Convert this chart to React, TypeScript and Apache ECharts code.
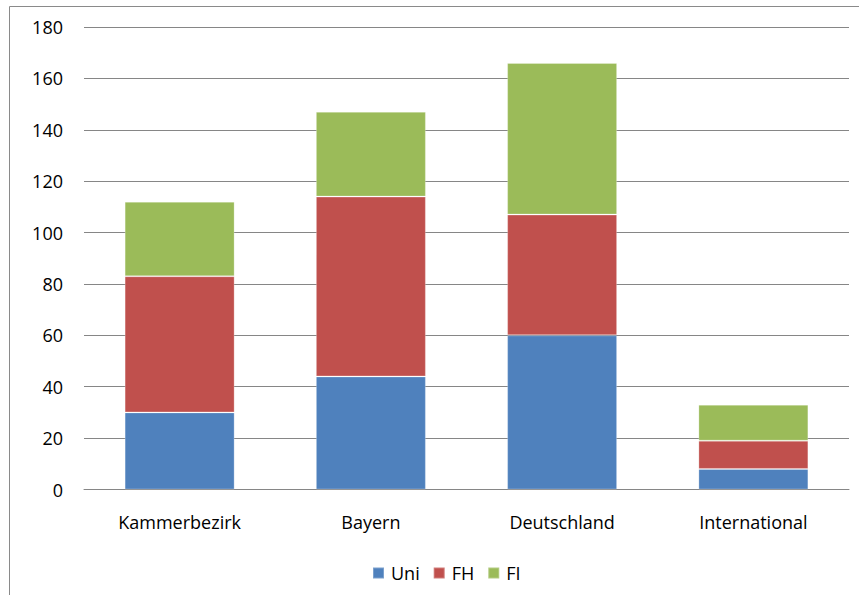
import React, { useEffect, useRef } from "react";
import * as echarts from "echarts";

const categories = ["Kammerbezirk", "Bayern", "Deutschland", "International"];
const uni = [30, 44, 60, 8];
const fh = [53, 70, 47, 11];
const fi = [29, 33, 59, 14];

const FONT = "'Open Sans', sans-serif";

export default function App() {
  const ref = useRef<HTMLDivElement>(null);

  useEffect(() => {
    if (!ref.current) return;
    const chart = echarts.init(ref.current, undefined, { renderer: "svg" });
    const barBase = {
      type: "bar" as const,
      stack: "total",
      barWidth: "57.5%",
      itemStyle: { borderColor: "rgba(255,255,255,0.25)", borderWidth: 1 },
    };
    chart.setOption({
      animation: false,
      backgroundColor: "#ffffff",
      color: ["#4F81BD", "#C0504D", "#9BBB59"],
      graphic: [
        {
          type: "rect",
          shape: { x: 9.5, y: 6.5, width: 880, height: 620 },
          style: { fill: "none", stroke: "#8a8a8a", lineWidth: 1 },
          silent: true,
        },
      ],
      grid: { left: 84, right: 10, top: 27, bottom: 105.5 },
      legend: {
        left: 367,
        top: 559,
        itemWidth: 11,
        itemHeight: 11,
        itemGap: 13,
        icon: "rect",
        textStyle: { fontFamily: FONT, fontSize: 18, color: "#000", padding: [0, 0, 0, 2] },
        data: ["Uni", "FH", "FI"],
      },
      xAxis: {
        type: "category",
        data: categories,
        axisLine: { show: true, lineStyle: { color: "#868686" } },
        axisTick: { show: false },
        axisLabel: { fontFamily: FONT, fontSize: 18, color: "#000", margin: 23 },
      },
      yAxis: {
        type: "value",
        min: 0,
        max: 180,
        interval: 20,
        axisLine: { show: false },
        axisTick: { show: false },
        splitLine: { lineStyle: { color: "#868686", width: 1 } },
        axisLabel: { fontFamily: FONT, fontSize: 18, color: "#000", margin: 21 },
      },
      series: [
        { ...barBase, name: "Uni", data: uni },
        { ...barBase, name: "FH", data: fh },
        { ...barBase, name: "FI", data: fi },
      ],
    });
    return () => chart.dispose();
  }, []);

  return (
    <div
      ref={ref}
      style={{ position: "fixed", left: 0, top: 0, width: 859, height: 595 }}
    />
  );
}
